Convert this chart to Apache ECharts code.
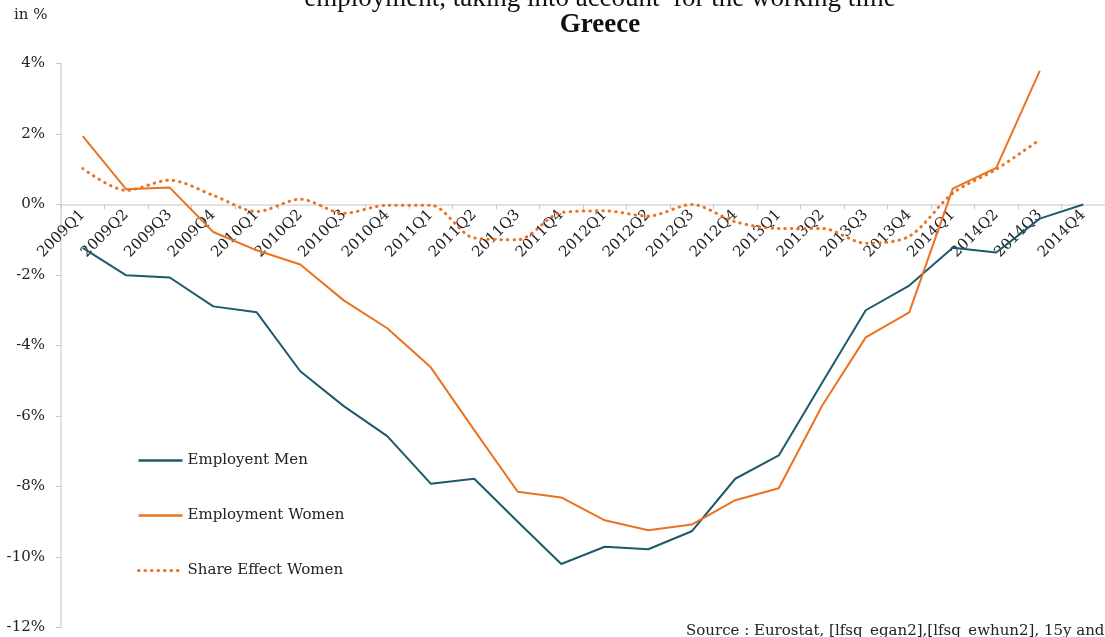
<!DOCTYPE html>
<html>
<head>
<meta charset="utf-8">
<script src="https://cdn.jsdelivr.net/npm/echarts@6/dist/echarts.min.js"></script>
<style>html,body{margin:0;padding:0;background:#fff;}#chart{width:1105px;height:637px;}</style>
</head>
<body>
<div id="chart"></div>
<script>
const categories = ['2009Q1','2009Q2','2009Q3','2009Q4','2010Q1','2010Q2','2010Q3','2010Q4',
  '2011Q1','2011Q2','2011Q3','2011Q4','2012Q1','2012Q2','2012Q3','2012Q4',
  '2013Q1','2013Q2','2013Q3','2013Q4','2014Q1','2014Q2','2014Q3','2014Q4'];
const employmentMen = [-1.23,-2.01,-2.07,-2.89,-3.06,-4.73,-5.72,-6.57,-7.92,-7.78,-9.0,-10.2,
  -9.71,-9.78,-9.27,-7.78,-7.12,-5.05,-3.0,-2.3,-1.23,-1.36,-0.4,0.0];
const employmentWomen = [1.94,0.43,0.48,-0.78,-1.3,-1.7,-2.72,-3.51,-4.62,-6.4,-8.15,-8.31,
  -8.96,-9.24,-9.08,-8.39,-8.05,-5.7,-3.77,-3.06,0.45,1.04,3.79,null];
const shareEffectWomen = [1.02,0.4,0.69,0.26,-0.2,0.15,-0.25,-0.02,-0.02,-0.95,-1.0,-0.23,
  -0.18,-0.33,0.0,-0.49,-0.68,-0.68,-1.1,-0.9,0.32,1.0,1.84,null];
const yTicks = {min:-12, max:4, interval:2};
const titleLine1 = 'employment, taking into account  for the working time';
const titleLine2 = 'Greece';
const unitLabel = 'in %';
const sourceText = 'Source : Eurostat, [lfsq_egan2],[lfsq_ewhun2], 15y and';

const SERIF = '"DejaVu Serif", "Liberation Serif", serif';
const BLUE = '#1d5a6b';
const ORANGE = '#ea7220';
const DOTTED = {color: ORANGE, width: 3, type: [0.5, 6], cap: 'round'};

const GRID_TOP = 63.5, GRID_H = 564;
const zeroOffset = -GRID_H * (0 - yTicks.min) / (yTicks.max - yTicks.min);

const chart = echarts.init(document.getElementById('chart'), null, {renderer:'canvas'});
chart.setOption({
  animation: false,
  backgroundColor: '#ffffff',
  grid: {left: 61, top: GRID_TOP, width: 1046, height: GRID_H, containLabel: false},
  graphic: [
    {type:'text', x: 600, y: -1, style:{text:titleLine1, font:'27px "Liberation Serif", serif', fill:'#111', align:'center', verticalAlign:'middle'}},
    {type:'text', x: 600, y: 25, style:{text:titleLine2, font:'bold 27px "Liberation Serif", serif', fill:'#111', align:'center', verticalAlign:'middle'}},
    {type:'text', left: 14, top: 8, style:{text:unitLabel, font:'15px ' + SERIF, fill:'#222'}},
    {type:'text', left: 686, top: 624, style:{text:sourceText, font:'15px ' + SERIF, fill:'#222'}}
  ],
  legend: {
    orient: 'vertical', left: 137, top: 453, padding: 0,
    itemWidth: 44, itemHeight: 14, itemGap: 40,
    itemStyle: {opacity: 0},
    textStyle: {fontFamily: SERIF, fontSize: 15, color: '#222'},
    data: [
      {name: 'Employent Men', lineStyle: {width: 2.5}},
      {name: 'Employment Women', lineStyle: {width: 2.5}},
      {name: 'Share Effect Women', lineStyle: DOTTED}
    ]
  },
  xAxis: {
    type: 'category', data: categories, boundaryGap: true, offset: zeroOffset,
    axisLine: {onZero: false, lineStyle: {color: '#d9d9d9', width: 1.5}},
    axisTick: {show: true, length: 5, lineStyle: {color: '#c8c8c8'}},
    axisLabel: {rotate: 45, interval: 0, margin: 8, fontFamily: SERIF, fontSize: 15, color: '#222'},
    splitLine: {show: false}
  },
  yAxis: {
    type: 'value', min: yTicks.min, max: yTicks.max, interval: yTicks.interval,
    axisLine: {show: true, lineStyle: {color: '#d9d9d9', width: 1.5}},
    axisTick: {show: true, length: 5, lineStyle: {color: '#c8c8c8'}},
    axisLabel: {formatter: '{value}%', margin: 16, fontFamily: SERIF, fontSize: 15, color: '#222'},
    splitLine: {show: false}
  },
  series: [
    {name: 'Employent Men', type: 'line', data: employmentMen, symbol: 'none',
     lineStyle: {color: BLUE, width: 2}, itemStyle: {color: BLUE}},
    {name: 'Employment Women', type: 'line', data: employmentWomen, symbol: 'none',
     lineStyle: {color: ORANGE, width: 2}, itemStyle: {color: ORANGE}},
    {name: 'Share Effect Women', type: 'line', data: shareEffectWomen, symbol: 'none', smooth: 0.3,
     lineStyle: DOTTED, itemStyle: {color: ORANGE}}
  ]
});
</script>
</body>
</html>
